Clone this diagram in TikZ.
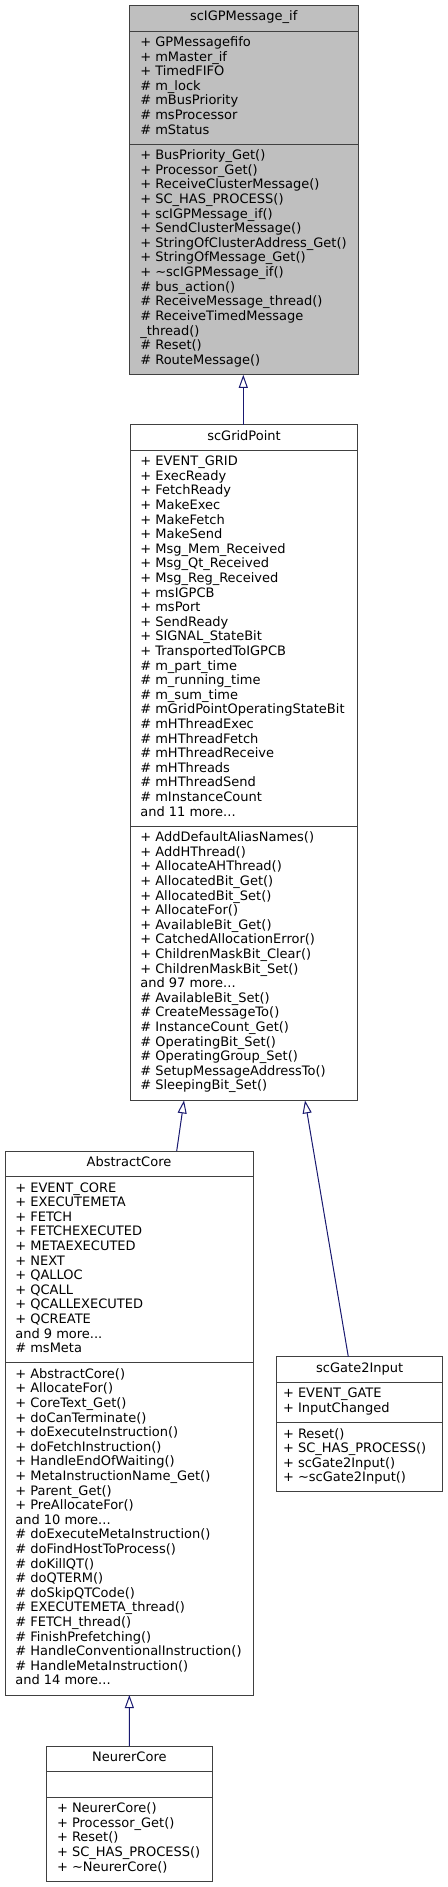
\documentclass[tikz,border=0pt]{standalone}
\usepackage{fontspec}
\setmainfont{DejaVu Sans}
\usetikzlibrary{arrows.meta,calc}
\definecolor{edgeblue}{HTML}{191970}
\definecolor{hdrgrey}{HTML}{BFBFBF}
\definecolor{bordergrey}{HTML}{404040}
\tikzset{
  box/.style={draw=bordergrey, line width=0.75pt, inner sep=0pt, outer sep=0pt, anchor=north west, fill=white},
  cur/.style={fill=hdrgrey},
  txt/.style={inner sep=0pt, outer sep=0pt, font=\fontsize{9.75}{11}\selectfont, text=black},
  inh/.style={draw=edgeblue, line width=0.75pt, -{Triangle[open, length=9.75pt, width=6.75pt]}}
}
\newcommand\compart[6]{\node[box,#6,minimum width={#4*0.75pt},minimum height={#5*0.75pt}] (#1) at (#2,#3) {};}
\newcommand\umllines[4]{\foreach \t [count=\i] in {#4} {\node[txt,anchor=base west] (#1\i) at ({#2},{#3+(\i-1)*14.6}) {\t};}}
\newcommand\tdots{.\kern0pt.\kern0pt.}
\begin{document}
\begin{tikzpicture}[x=0.75pt,y=-0.75pt]
\useasboundingbox (0,0) rectangle (448,1887);
\fill[white] (0,0) rectangle (448,1887);

% scIGPMessage_if
\compart{msgT}{129.5}{5.5}{228.5}{25.6}{cur}
\compart{msgA}{129.5}{31.1}{228.5}{113.2}{cur}
\compart{msgM}{129.5}{144.3}{228.5}{230.5}{cur}
\node[txt,anchor=base] (msgTt) at (243.7,21) {scIGPMessage\_if};
\umllines{msga}{140.3}{46.6}{+ GPMessagefifo, + mMaster\_if, + TimedFIFO, \# m\_lock, \# mBusPriority, \# msProcessor, \# mStatus}
\umllines{msgm}{140.3}{159.8}{+ BusPriority\_Get(), + Processor\_Get(), + ReceiveClusterMessage(), + SC\_HAS\_PROCESS(), + scIGPMessage\_if(), + SendClusterMessage(), + StringOfClusterAddress\_Get(), + StringOfMessage\_Get(), + \textasciitilde scIGPMessage\_if(), \# bus\_action(), \# ReceiveMessage\_thread(), \# ReceiveTimedMessage, \_thread(), \# Reset(), \# RouteMessage()}

% scGridPoint
\compart{gpT}{130.7}{424.5}{226.7}{25.6}{}
\compart{gpA}{130.7}{450.1}{226.7}{376}{}
\compart{gpM}{130.7}{826.1}{226.7}{274.3}{}
\node[txt,anchor=base] (gpTt) at (244,440) {scGridPoint};
\umllines{gpa}{140.3}{465.6}{+ EVENT\_GRID, + ExecReady, + FetchReady, + MakeExec, + MakeFetch, + MakeSend, + Msg\_Mem\_Received, + Msg\_Qt\_Received, + Msg\_Reg\_Received, + msIGPCB, + msPort, + SendReady, + SIGNAL\_StateBit, + TransportedToIGPCB, \# m\_part\_time, \# m\_running\_time, \# m\_sum\_time, \# mGridPointOperatingStateBit, \# mHThreadExec, \# mHThreadFetch, \# mHThreadReceive, \# mHThreads, \# mHThreadSend, \# mInstanceCount, and 11 more\tdots}
\umllines{gpm}{140.3}{841.6}{+ AddDefaultAliasNames(), + AddHThread(), + AllocateAHThread(), + AllocatedBit\_Get(), + AllocatedBit\_Set(), + AllocateFor(), + AvailableBit\_Get(), + CatchedAllocationError(), + ChildrenMaskBit\_Clear(), + ChildrenMaskBit\_Set(), and 97 more\tdots, \# AvailableBit\_Set(), \# CreateMessageTo(), \# InstanceCount\_Get(), \# OperatingBit\_Set(), \# OperatingGroup\_Set(), \# SetupMessageAddressTo(), \# SleepingBit\_Set()}

% AbstractCore
\compart{acT}{5}{1151}{248}{25.6}{}
\compart{acA}{5}{1176.6}{248}{186.2}{}
\compart{acM}{5}{1362.8}{248}{332.2}{}
\node[txt,anchor=base] (acTt) at (129,1166.5) {AbstractCore};
\umllines{aca}{15.3}{1192.1}{+ EVENT\_CORE, + EXECUTEMETA, + FETCH, + FETCHEXECUTED, + METAEXECUTED, + NEXT, + QALLOC, + QCALL, + QCALLEXECUTED, + QCREATE, and 9 more\tdots, \# msMeta}
\umllines{acm}{15.3}{1378.3}{+ AbstractCore(), + AllocateFor(), + CoreText\_Get(), + doCanTerminate(), + doExecuteInstruction(), + doFetchInstruction(), + HandleEndOfWaiting(), + MetaInstructionName\_Get(), + Parent\_Get(), + PreAllocateFor(), and 10 more\tdots, \# doExecuteMetaInstruction(), \# doFindHostToProcess(), \# doKillQT(), \# doQTERM(), \# doSkipQTCode(), \# EXECUTEMETA\_thread(), \# FETCH\_thread(), \# FinishPrefetching(), \# HandleConventionalInstruction(), \# HandleMetaInstruction(), and 14 more\tdots}

% scGate2Input
\compart{gateT}{276.7}{1356.7}{166}{25.6}{}
\compart{gateA}{276.7}{1382.3}{166}{40.2}{}
\compart{gateM}{276.7}{1422.5}{166}{69.4}{}
\node[txt,anchor=base] (gateTt) at (359.7,1372.2) {scGate2Input};
\umllines{gatea}{283}{1397.8}{+ EVENT\_GATE, + InputChanged}
\umllines{gatem}{283}{1438}{+ Reset(), + SC\_HAS\_PROCESS(), + scGate2Input(), + \textasciitilde scGate2Input()}

% NeurerCore
\compart{ncT}{46.7}{1746}{165.3}{25.6}{}
\compart{ncA}{46.7}{1771.6}{165.3}{25.6}{}
\compart{ncM}{46.7}{1797.2}{165.3}{84}{}
\node[txt,anchor=base] (ncTt) at (129.35,1761.5) {NeurerCore};
\umllines{ncm}{57}{1812.7}{+ NeurerCore(), + Processor\_Get(), + Reset(), + SC\_HAS\_PROCESS(), + \textasciitilde NeurerCore()}

% inheritance
\draw[inh] ($(gpT.north west)+(112.6,0)$) -- ($(msgM.south west)+(113.8,0)$);
\draw[inh] ($(acT.north west)+(171.7,0)$) -- ($(gpM.south west)+(53.3,0)$);
\draw[inh] ($(gateT.north west)+(71.6,0)$) -- ($(gpM.south west)+(174.3,0)$);
\draw[inh] (ncT.north) -- ($(acM.south west)+(124.35,0)$);
\end{tikzpicture}
\end{document}
